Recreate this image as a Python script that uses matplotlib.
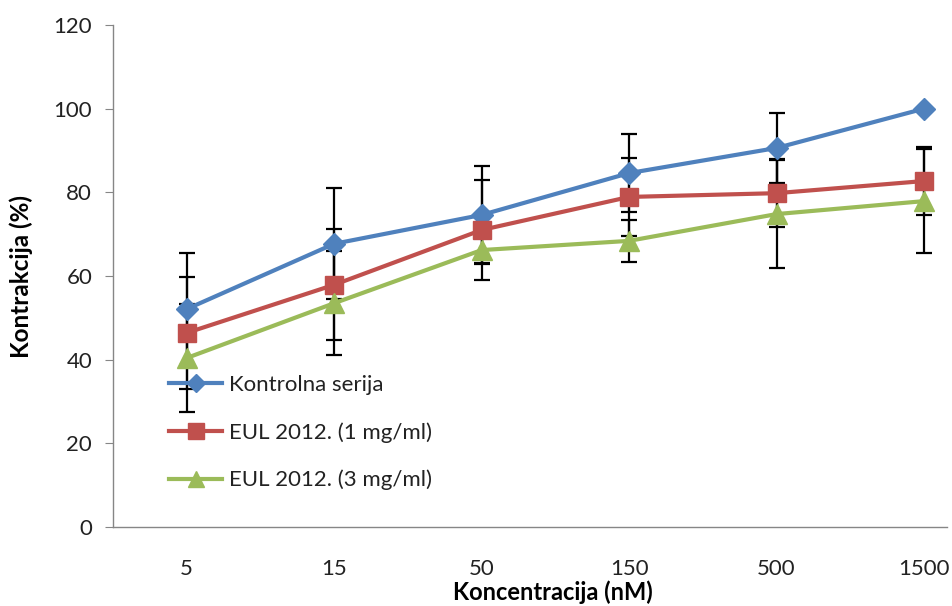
import matplotlib
matplotlib.use("Agg")
import matplotlib.pyplot as plt
import numpy as np

categories = ["5", "15", "50", "150", "500", "1500"]
kontrolna = [52.1, 67.7, 74.6, 84.6, 90.6, 100.0]
kontrolna_err = [13.4, 13.3, 11.8, 9.4, 8.3, 0.0]
eul_1 = [46.4, 57.9, 71.0, 78.9, 79.8, 82.7]
eul_1_err = [13.4, 13.3, 11.9, 9.3, 8.2, 8.2]
eul_3 = [40.4, 53.5, 66.2, 68.4, 74.8, 77.9]
eul_3_err = [12.9, 12.4, 3.2, 5.0, 13.0, 12.5]

labels = ["Kontrolna serija", "EUL 2012. (1 mg/ml)", "EUL 2012. (3 mg/ml)"]
colors = ["#4F81BD", "#C0504D", "#9BBB59"]
markers = ["D", "s", "^"]
msizes = [11, 13, 14]

plt.rcParams['font.family'] = ['Lato', 'DejaVu Sans']

fig = plt.figure(figsize=(9.52, 6.06), dpi=100)
ax = fig.add_axes([113/952, 1 - 527/606, (947 - 113)/952, (527 - 25)/606])

x = np.arange(len(categories))
series = [(kontrolna, kontrolna_err), (eul_1, eul_1_err), (eul_3, eul_3_err)]

for (vals, err) in series:
    ax.errorbar(x, vals, yerr=err, fmt='none', ecolor='black', elinewidth=1.6,
                capsize=6, capthick=1.6, zorder=2)

handles = []
for (vals, err), lab, c, m, ms in zip(series, labels, colors, markers, msizes):
    h, = ax.plot(x, vals, color=c, lw=3, marker=m, markersize=ms,
                 markerfacecolor=c, markeredgecolor=c, label=lab, zorder=3)
    handles.append(h)

ax.set_xlim(-0.5, 5.156)
ax.set_ylim(0, 120)
ax.set_yticks(range(0, 121, 20))
ax.set_xticks(x)
ax.set_xticklabels(categories)

for s in ["top", "right"]:
    ax.spines[s].set_visible(False)
for s in ["left", "bottom"]:
    ax.spines[s].set_color("#868686")
    ax.spines[s].set_linewidth(1.0)

ax.tick_params(axis='y', length=6, color="#868686", pad=9, labelsize=16, labelcolor="#222222")
ax.tick_params(axis='x', length=0, pad=23, labelsize=16, labelcolor="#222222")

ax.set_ylabel("Kontrakcija (%)", fontsize=17.5, fontweight='bold')
ax.set_xlabel("Koncentracija (nM)", fontsize=17, fontweight='bold')
ax.yaxis.set_label_coords((33 - 113)/834, 0.5)
ax.xaxis.set_label_coords((553 - 113)/834, (527 - 580)/502)

leg = ax.legend(handles=handles, loc='upper left', bbox_to_anchor=(47/834, (527-366)/502),
                frameon=False, fontsize=16, handlelength=2.4, handletextpad=0.3,
                labelspacing=1.22, borderaxespad=0, numpoints=1, markerscale=0.85)
for t in leg.get_texts():
    t.set_color("#222222")

fig.savefig("out.png", dpi=100)
